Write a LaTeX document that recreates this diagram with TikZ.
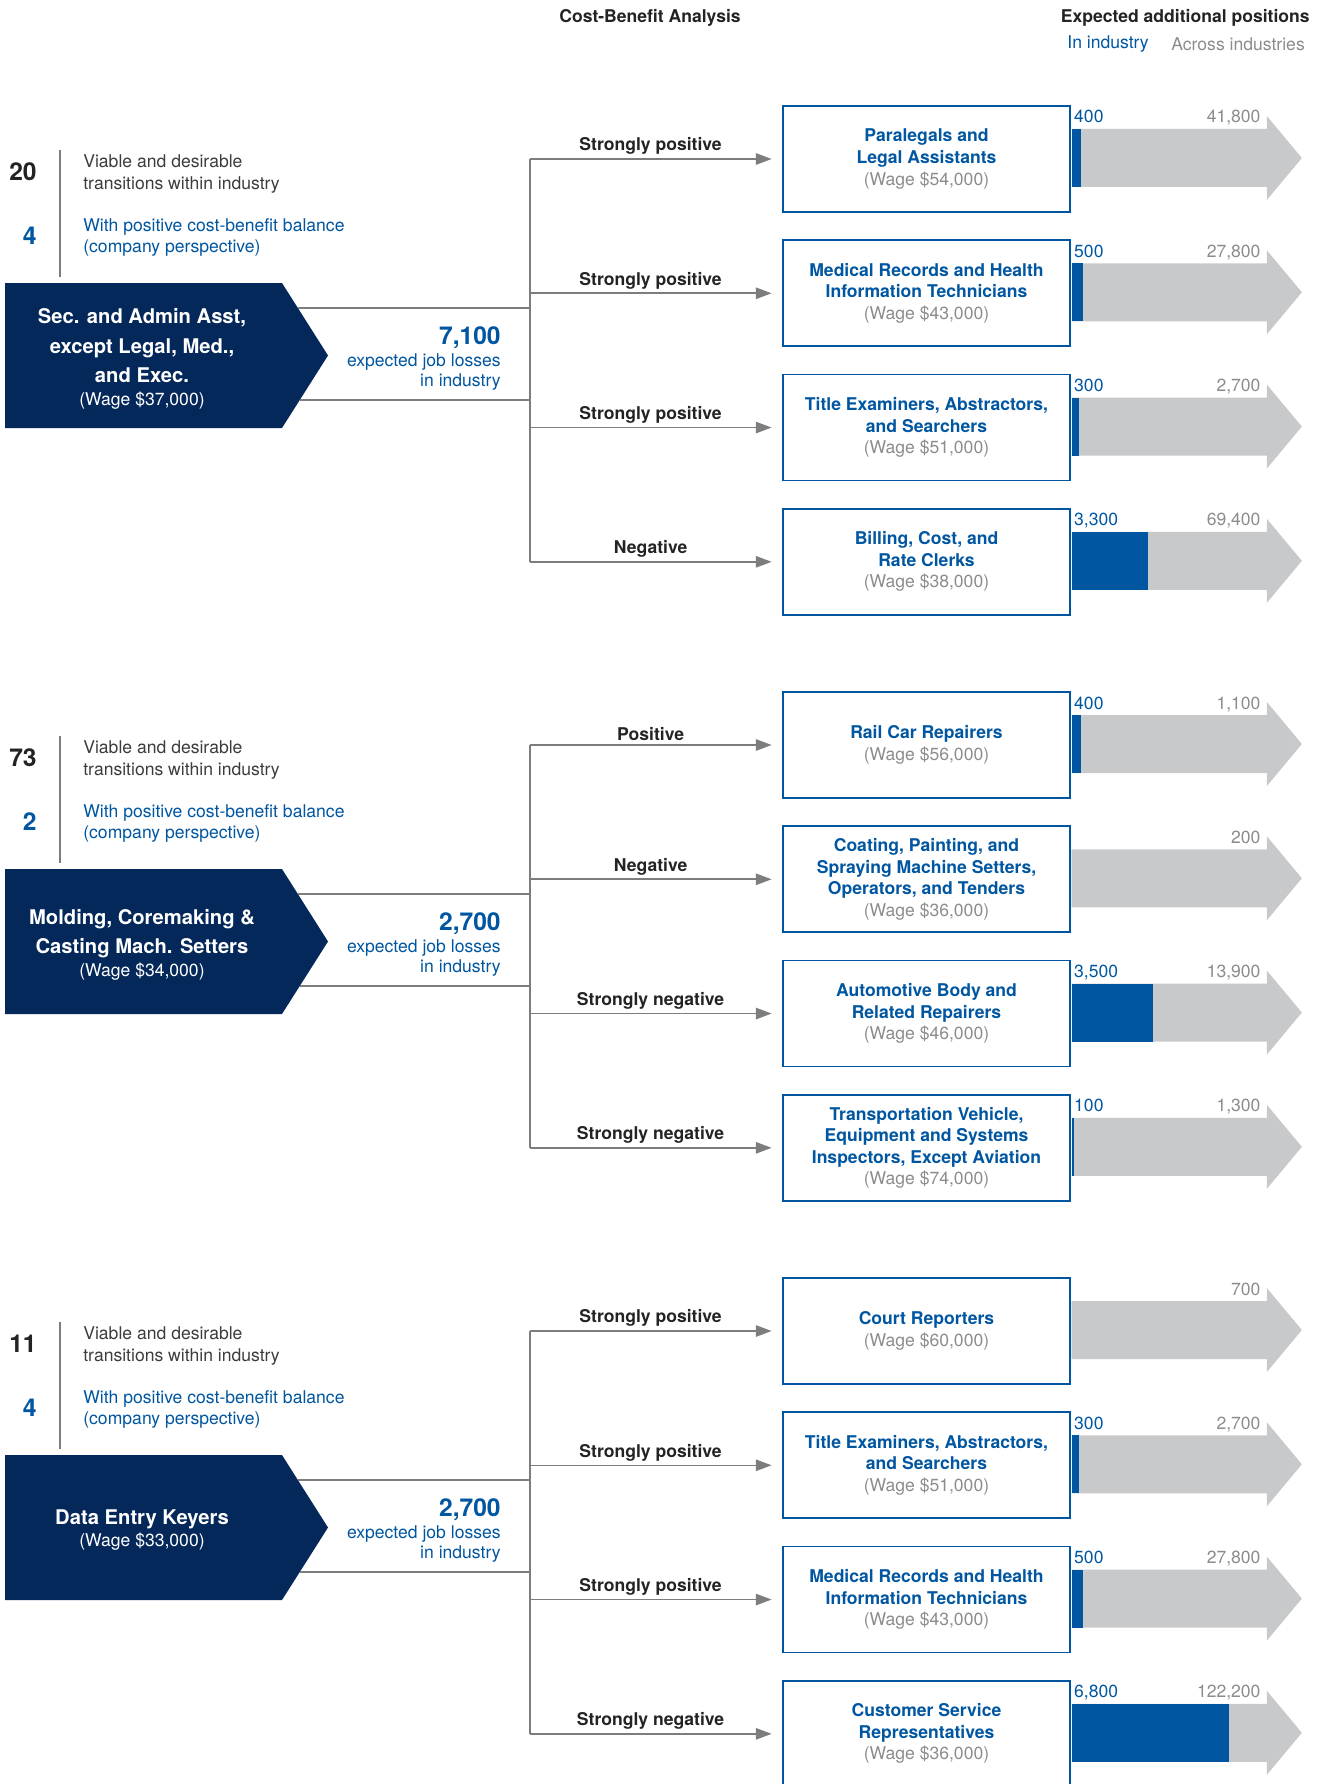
\documentclass[tikz,border=0pt]{standalone}
\usepackage{fontspec}
\setmainfont{TeX Gyre Heros}
\usetikzlibrary{shapes,arrows.meta,calc}
\definecolor{navy}{RGB}{5,40,90}
\definecolor{jobblue}{RGB}{0,86,160}
\definecolor{bargray}{RGB}{200,201,203}
\definecolor{linegray}{RGB}{125,125,128}
\definecolor{txtdark}{RGB}{35,35,35}
\definecolor{notegray}{RGB}{60,60,60}
\definecolor{wagegray}{RGB}{140,140,140}
\tikzstyle{line} = [draw, linegray, line width=0.9pt, -{Triangle[length=9pt,width=6.5pt]}, shorten >=6pt]
\tikzstyle{link} = [draw, linegray, line width=0.9pt]
\tikzstyle{divider} = [draw, linegray, line width=0.8pt]
\tikzstyle{block} = [draw=jobblue, line width=1pt, rectangle, text=jobblue, align=center, minimum width=5.74cm, minimum height=2.12cm, font=\fontsize{10}{12.25}\selectfont\bfseries]
\tikzstyle{srcbox} = [text=white, align=center, inner sep=0pt, font=\fontsize{11.5}{16.8}\selectfont\bfseries]
\tikzstyle{rating} = [midway, above, xshift=-0.11cm, inner sep=2pt, text=txtdark, font=\fontsize{10}{12}\selectfont\bfseries]
\tikzstyle{countnum} = [anchor=east, inner sep=0pt, text=txtdark, font=\fontsize{14}{16}\selectfont\bfseries]
\tikzstyle{notetext} = [anchor=west, align=left, inner sep=0pt, text=notegray, font=\fontsize{10}{12.25}\selectfont]
\tikzstyle{losses} = [anchor=north east, align=right, inner sep=0pt, text=jobblue, font=\fontsize{10}{11.6}\selectfont]
\tikzstyle{head} = [inner sep=0pt, text=txtdark, font=\fontsize{10}{12}\selectfont\bfseries]
\tikzstyle{inval} = [anchor=base west, inner sep=0pt, text=jobblue, font=\fontsize{10}{12}\selectfont]
\tikzstyle{acval} = [anchor=base east, inner sep=0pt, text=wagegray, font=\fontsize{10}{12}\selectfont]
\newcommand{\wage}[1]{{\mdseries\color{wagegray}(Wage \$#1)}}
\newcommand{\srcwage}[1]{{\mdseries\fontsize{10}{12}\selectfont(Wage \$#1)}}
% gray arrow with the in-industry part in blue
\newcommand{\posbar}[4]{%
  \fill[bargray] (#1.east) ++(1,-30) -- ++(195,0) -- ++(0,-13) -- ++(35,42) -- ++(-35,42) -- ++(0,-13) -- ++(-195,0) -- cycle;
  \fill[jobblue] (#1.east) ++(1,-30) rectangle ++(#2,58);
  \node[inval] (#1in) at ($(#1.east)+(3,-36)$) {#3};
  \node[acval] (#1ac) at ($(#1.east)+(190,-36)$) {#4};
}

\begin{document}
\begin{tikzpicture}[x=0.02cm, y=-0.02cm, node distance=2.686cm]
        \useasboundingbox (0,0) rectangle (1327,1784);
        % headings
        \node[head] (cba) at (650,17.5) {Cost-Benefit Analysis};
        \node[head, anchor=east] (exp) at (1310,17.5) {Expected additional positions};
        \node[inval, anchor=west] (ini) at (1067,44.5) {In industry};
        \node[acval, anchor=west] (acr) at (1171,44.5) {Across industries};

        % first occupation
        \node[countnum] (n20) at (37,172) {20};
        \node[countnum, text=jobblue] (n4a) at (37,236) {4};
        \draw[divider] (60,150) -- (60,277);
        \node[notetext] (via1) at (83,174) {Viable and desirable\\transitions within industry};
        \node[notetext, text=jobblue] (pos1) at (83,237.5) {With positive cost-benefit balance\\(company perspective)};
        \fill[navy] (5,283) -- (282,283) -- (328,355.5) -- (282,428) -- (5,428) -- cycle;
        \node[srcbox] (sec1) at (142,359) {Sec. and Admin Asst,\\except Legal, Med.,\\and Exec.\\[-4pt]\srcwage{37,000}};
        \node[losses] (loss1) at (501,326) {{\fontsize{14}{16}\selectfont\bfseries 7,100}\\[1pt]expected job losses\\in industry};
        \node[block] (p1) at (926.5,159) {Paralegals and\\Legal Assistants\\\wage{54,000}};
        \node[block, below of=p1] (p2) {Medical Records and Health\\Information Technicians\\\wage{43,000}};
        \node[block, below of=p2] (p3) {Title Examiners, Abstractors,\\and Searchers\\\wage{51,000}};
        \node[block, below of=p3] (p4) {Billing, Cost, and\\Rate Clerks\\\wage{38,000}};
        \coordinate (s1t) at (298,308);
        \coordinate (s1b) at (300,400);
        \coordinate (t1) at (530,308);
        \coordinate (b1) at (530,400);
        \draw[link] (s1t) -- (t1);
        \draw[link] (s1b) -- (b1);
        \draw[link] (t1 |- p1) -- (t1 |- p4);
        \path[line] (t1 |- p1) -- node[rating] (r1) {Strongly positive} (p1);
        \path[line] (t1 |- p2) -- node[rating] (r2) {Strongly positive} (p2);
        \path[line] (t1 |- p3) -- node[rating] (r3) {Strongly positive} (p3);
        \path[line] (t1 |- p4) -- node[rating] (r4) {Negative} (p4);
        \posbar{p1}{9.2}{400}{41,800}
        \posbar{p2}{11.6}{500}{27,800}
        \posbar{p3}{6.9}{300}{2,700}
        \posbar{p4}{76.2}{3,300}{69,400}

        % second occupation
        \node[countnum] (n73) at (37,758) {73};
        \node[countnum, text=jobblue] (n2b) at (37,822) {2};
        \draw[divider] (60,736) -- (60,863);
        \node[notetext] (via2) at (83,760) {Viable and desirable\\transitions within industry};
        \node[notetext, text=jobblue] (pos2) at (83,823.5) {With positive cost-benefit balance\\(company perspective)};
        \fill[navy] (5,869) -- (282,869) -- (328,941.5) -- (282,1014) -- (5,1014) -- cycle;
        \node[srcbox] (sec2) at (142,944.5) {Molding, Coremaking \&\\Casting Mach. Setters\\[-4pt]\srcwage{34,000}};
        \node[losses] (loss2) at (501,912) {{\fontsize{14}{16}\selectfont\bfseries 2,700}\\[1pt]expected job losses\\in industry};
        \node[block] (p5) at (926.5,745) {Rail Car Repairers\\\wage{56,000}};
        \node[block, below of=p5] (p6) {Coating, Painting, and\\Spraying Machine Setters,\\Operators, and Tenders\\\wage{36,000}};
        \node[block, below of=p6] (p7) {Automotive Body and\\Related Repairers\\\wage{46,000}};
        \node[block, below of=p7] (p8) {Transportation Vehicle,\\Equipment and Systems\\Inspectors, Except Aviation\\\wage{74,000}};
        \coordinate (s2t) at (298,894);
        \coordinate (s2b) at (300,986);
        \coordinate (t2) at (530,894);
        \coordinate (b2) at (530,986);
        \draw[link] (s2t) -- (t2);
        \draw[link] (s2b) -- (b2);
        \draw[link] (t2 |- p5) -- (t2 |- p8);
        \path[line] (t2 |- p5) -- node[rating] (r5) {Positive} (p5);
        \path[line] (t2 |- p6) -- node[rating] (r6) {Negative} (p6);
        \path[line] (t2 |- p7) -- node[rating] (r7) {Strongly negative} (p7);
        \path[line] (t2 |- p8) -- node[rating] (r8) {Strongly negative} (p8);
        \posbar{p5}{9.2}{400}{1,100}
        \posbar{p6}{0}{}{200}
        \posbar{p7}{80.9}{3,500}{13,900}
        \posbar{p8}{2.3}{100}{1,300}

        % third occupation
        \node[countnum] (n11) at (37,1344) {11};
        \node[countnum, text=jobblue] (n4c) at (37,1408) {4};
        \draw[divider] (60,1322) -- (60,1449);
        \node[notetext] (via3) at (83,1346) {Viable and desirable\\transitions within industry};
        \node[notetext, text=jobblue] (pos3) at (83,1409.5) {With positive cost-benefit balance\\(company perspective)};
        \fill[navy] (5,1455) -- (282,1455) -- (328,1527.5) -- (282,1600) -- (5,1600) -- cycle;
        \node[srcbox] (sec3) at (142,1530) {Data Entry Keyers\\[-4.5pt]\srcwage{33,000}};
        \node[losses] (loss3) at (501,1498) {{\fontsize{14}{16}\selectfont\bfseries 2,700}\\[1pt]expected job losses\\in industry};
        \node[block] (p9) at (926.5,1331) {Court Reporters\\\wage{60,000}};
        \node[block, below of=p9] (p10) {Title Examiners, Abstractors,\\and Searchers\\\wage{51,000}};
        \node[block, below of=p10] (p11) {Medical Records and Health\\Information Technicians\\\wage{43,000}};
        \node[block, below of=p11] (p12) {Customer Service\\Representatives\\\wage{36,000}};
        \coordinate (s3t) at (298,1480);
        \coordinate (s3b) at (300,1572);
        \coordinate (t3) at (530,1480);
        \coordinate (b3) at (530,1572);
        \draw[link] (s3t) -- (t3);
        \draw[link] (s3b) -- (b3);
        \draw[link] (t3 |- p9) -- (t3 |- p12);
        \path[line] (t3 |- p9) -- node[rating] (r9) {Strongly positive} (p9);
        \path[line] (t3 |- p10) -- node[rating] (r10) {Strongly positive} (p10);
        \path[line] (t3 |- p11) -- node[rating] (r11) {Strongly positive} (p11);
        \path[line] (t3 |- p12) -- node[rating] (r12) {Strongly negative} (p12);
        \posbar{p9}{0}{}{700}
        \posbar{p10}{6.9}{300}{2,700}
        \posbar{p11}{11.6}{500}{27,800}
        \posbar{p12}{157}{6,800}{122,200}
    \end{tikzpicture}
\end{document}
